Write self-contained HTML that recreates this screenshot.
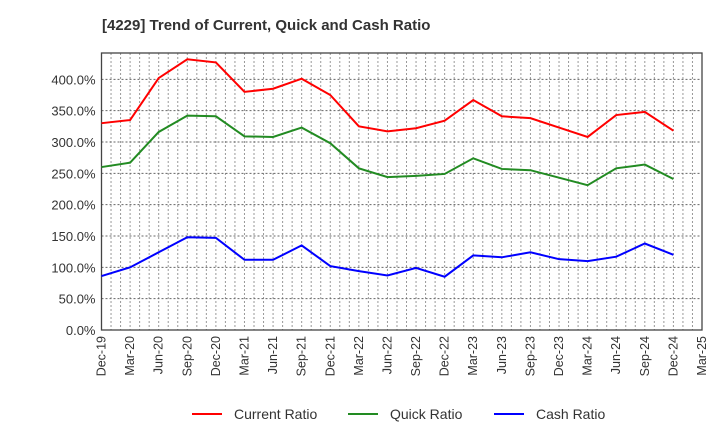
<!DOCTYPE html>
<html><head><meta charset="utf-8"><style>
body{margin:0;background:#fff;font-family:"Liberation Sans",Arial,sans-serif}
</style></head><body>
<svg id="c" width="720" height="440" xmlns="http://www.w3.org/2000/svg">
<text x="102" y="30" font-size="15" font-weight="bold" fill="#333">[4229]  Trend of Current, Quick and Cash Ratio</text>
<g id="grid"></g><g id="axes"></g><g id="series"></g><g id="legend"></g>
</svg>
<script>
const labels=["Dec-19","Mar-20","Jun-20","Sep-20","Dec-20","Mar-21","Jun-21","Sep-21","Dec-21","Mar-22","Jun-22","Sep-22","Dec-22","Mar-23","Jun-23","Sep-23","Dec-23","Mar-24","Jun-24","Sep-24","Dec-24","Mar-25"];
const yTicks=[0,50,100,150,200,250,300,350,400];
const currentRatio=[330,335,402,432,427,380,385,401,375,325,317,322,334,367,341,338,323,308,343,348,318];
const quickRatio=[260,267,316,342,341,309,308,323,298,258,244,246,249,274,257,255,243,231,258,264,241];
const cashRatio=[86,100,124,148,147,112,112,135,102,94,87,99,85,119,116,124,113,110,117,138,120];
const L=101.5,R=702,T=53,B=330,YMAX=442;
const x=i=>L+i*(R-L)/(labels.length-1);
const y=v=>B-v*(B-T)/YMAX;
const NS="http://www.w3.org/2000/svg";
function mk(t,a,p){const e=document.createElementNS(NS,t);for(const k in a)e.setAttribute(k,a[k]);p.appendChild(e);return e;}
const g=document.getElementById('grid'),ax=document.getElementById('axes'),s=document.getElementById('series'),lg=document.getElementById('legend');
for(let m=1;m<(labels.length-1)*3;m++){const xx=L+m*(R-L)/((labels.length-1)*3);
const ln=mk('line',{x1:xx,x2:xx,y1:T,y2:B,stroke:'#999','stroke-dasharray':'2,2','stroke-width':1},g);

}
yTicks.forEach(v=>{const ln=mk('line',{x1:L,x2:R,y1:y(v),y2:y(v),stroke:'#666','stroke-dasharray':'2,2','stroke-width':1},g);


const t=mk('text',{x:L-6,y:y(v)+5,'text-anchor':'end','font-size':13,fill:'#333'},ax);t.textContent=v.toFixed(1)+'%';

});
const fr=mk('rect',{x:L,y:T,width:R-L,height:B-T,fill:'none',stroke:'#444','stroke-width':1.3},ax);


labels.forEach((l,i)=>{const t=mk('text',{transform:`translate(${x(i)+4},${B+6}) rotate(-90)`,'text-anchor':'end','font-size':12.5,fill:'#333'},ax);t.textContent=l;

});
const ser=[[currentRatio,'#ff0000','Current Ratio','current-ratio-line'],[quickRatio,'#228b22','Quick Ratio','quick-ratio-line'],[cashRatio,'#0000ff','Cash Ratio','cash-ratio-line']];
ser.forEach(([d,c,n,id],k)=>{const p=mk('polyline',{points:d.map((v,i)=>x(i)+','+y(v)).join(' '),fill:'none',stroke:c,'stroke-width':2},s);


const lx=[192,348,494][k];
const ll=mk('line',{x1:lx,x2:lx+30,y1:414,y2:414,stroke:c,'stroke-width':2},lg);


const t=mk('text',{x:lx+42,y:419,'font-size':14,fill:'#333'},lg);t.textContent=n;

});
</script>
</body></html>
